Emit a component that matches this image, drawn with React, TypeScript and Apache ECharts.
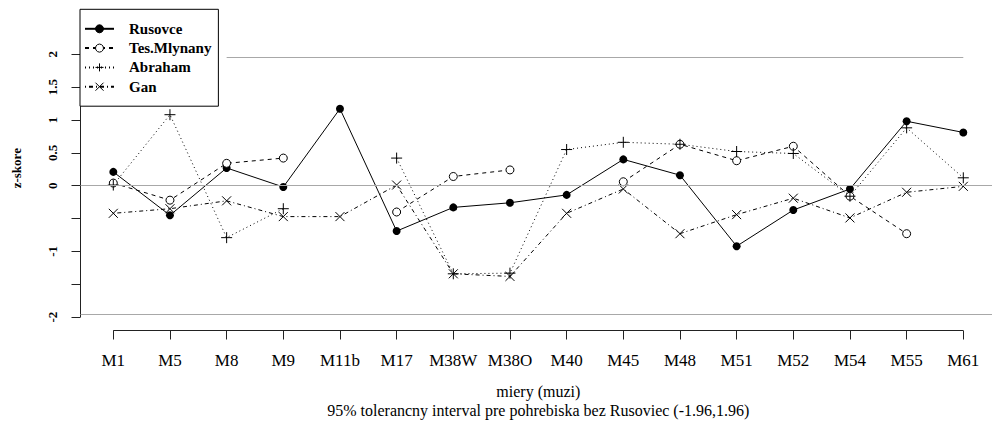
import { useEffect, useRef } from 'react';
import * as echarts from 'echarts';

const categories = ['M1', 'M5', 'M8', 'M9', 'M11b', 'M17', 'M38W', 'M38O', 'M40', 'M45', 'M48', 'M51', 'M52', 'M54', 'M55', 'M61'];
const rusovce = [0.21, -0.45, 0.27, -0.02, 1.17, -0.69, -0.33, -0.26, -0.14, 0.4, 0.16, -0.92, -0.37, -0.05, 0.98, 0.81];
const tesMlynany = [0.04, -0.22, 0.34, 0.42, null, -0.4, 0.14, 0.24, null, 0.06, 0.63, 0.38, 0.6, -0.16, -0.73, null];
const abraham = [0.01, 1.08, -0.79, -0.35, null, 0.42, -1.34, -1.33, 0.55, 0.66, 0.63, 0.52, 0.49, -0.16, 0.88, 0.12];
const gan = [-0.42, -0.35, -0.23, -0.47, -0.47, 0.01, -1.34, -1.38, -0.42, -0.05, -0.73, -0.44, -0.19, -0.49, -0.1, -0.01];
const hiddenYTicks = [-0.5, -1.5];
const yMin = -2;
const yMax = 2;
const toleranceLow = -1.96;
const toleranceHigh = 1.96;
const toleranceStart = 'M8';
const toleranceEnd = 'M61';

const FONT = 'Liberation Serif';
const PLUS = 'path://M0,5L10,5M5,0L5,10';
const CROSS = 'path://M0,0L10,10M10,0L0,10';
const GRAY = '#a8a8a8';
const AXIS = '#222';

function mkSeries(name: string, data: (number | null)[], symbol: string, size: number, dash: any, itemStyle: any) {
  return {
    type: 'line',
    name,
    data,
    xAxisIndex: 0,
    yAxisIndex: 0,
    symbol,
    symbolSize: size,
    showAllSymbol: true,
    connectNulls: false,
    lineStyle: { color: '#000', width: 1, type: dash },
    itemStyle,
    emphasis: { disabled: true },
    z: 3,
  };
}

const markBase = {
  silent: true,
  symbol: ['none', 'none'],
  label: { show: false },
  emphasis: { disabled: true },
};

export default function App() {
  const ref = useRef<HTMLDivElement>(null);
  useEffect(() => {
    const chart = echarts.init(ref.current!, null, { renderer: 'svg' });
    chart.setOption({
      animation: false,
      backgroundColor: '#fff',
      textStyle: { fontFamily: FONT },
      grid: [
        { left: 113.3, right: 28.7, top: 54.2, bottom: 110.8 },
        { left: 80.5, right: -5, top: 54.2, bottom: 110.8 },
        { left: 113.3, right: 28.7, top: 54.2, bottom: 97.5 },
      ],
      legend: {
        data: ['Rusovce', 'Tes.Mlynany', 'Abraham', 'Gan'],
        orient: 'vertical',
        left: 80,
        top: 9.3,
        padding: [12, 7, 12, 4],
        itemWidth: 29,
        itemHeight: 10,
        itemGap: 4.3,
        selectedMode: false,
        backgroundColor: '#fff',
        borderColor: '#000',
        borderWidth: 1,
        borderRadius: 0,
        itemStyle: { borderWidth: 1 },
        formatter: '{a|{name}}',
        textStyle: {
          fontFamily: FONT,
          rich: {
            a: { fontFamily: FONT, fontSize: 15, fontWeight: 'bold', color: '#000', lineHeight: 15, padding: [0, 0, 0, 10] },
          },
        },
        z: 10,
      },
      xAxis: [
        {
          type: 'category',
          gridIndex: 0,
          data: categories,
          boundaryGap: false,
          offset: 13.3,
          axisLine: { show: false, onZero: false },
          axisTick: { show: true, inside: false, length: 9, interval: 0, lineStyle: { color: AXIS, width: 1 } },
          axisLabel: { interval: 0, margin: 21, fontFamily: FONT, fontSize: 17, color: '#000', hideOverlap: false },
          splitLine: { show: false },
          name: 'miery (muzi)\n95% tolerancny interval pre pohrebiska bez Rusoviec (-1.96,1.96)',
          nameLocation: 'middle',
          nameGap: 51.2,
          nameTextStyle: { fontFamily: FONT, fontSize: 16, lineHeight: 19, color: '#000', align: 'center' },
        },
        { type: 'value', gridIndex: 1, min: 0, max: 1, show: false },
        { type: 'category', gridIndex: 2, data: categories, boundaryGap: false, show: false },
      ],
      yAxis: [
        {
          type: 'value',
          gridIndex: 0,
          min: yMin,
          max: yMax,
          interval: 0.5,
          offset: 32.8,
          axisLine: { show: false, onZero: false },
          axisTick: { show: true, inside: false, length: 9, lineStyle: { color: AXIS, width: 1 } },
          axisLabel: {
            rotate: 90,
            margin: 22,
            fontFamily: FONT,
            fontSize: 13,
            fontWeight: 'bold',
            color: '#000',
            formatter: (v: number) => (hiddenYTicks.some((h) => Math.abs(h - v) < 1e-9) ? '' : String(v)),
          },
          splitLine: { show: false },
          name: 'z-skore',
          nameLocation: 'middle',
          nameGap: 57.5,
          nameTextStyle: { fontFamily: FONT, fontSize: 13, fontWeight: 'bold', color: '#000', padding: [0, 0, 0, 35] },
        },
        { type: 'value', gridIndex: 1, min: yMin, max: yMax, show: false },
        { type: 'value', gridIndex: 2, min: 0, max: 1, show: false },
      ],
      series: [
        {
          type: 'line',
          name: 'refLines',
          xAxisIndex: 1,
          yAxisIndex: 1,
          data: [],
          silent: true,
          markLine: {
            ...markBase,
            lineStyle: { color: GRAY, width: 1, type: 'solid' },
            data: [{ yAxis: 0 }, { yAxis: toleranceLow }],
          },
          z: 1,
        },
        {
          type: 'line',
          name: 'refTop',
          xAxisIndex: 0,
          yAxisIndex: 0,
          data: [],
          silent: true,
          markLine: {
            ...markBase,
            lineStyle: { color: GRAY, width: 1, type: 'solid' },
            data: [[{ coord: [toleranceStart, toleranceHigh] }, { coord: [toleranceEnd, toleranceHigh] }]],
          },
          z: 1,
        },
        {
          type: 'line',
          name: 'yAxisLine',
          xAxisIndex: 1,
          yAxisIndex: 1,
          data: [[0, yMin], [0, yMax]],
          symbol: 'none',
          clip: false,
          silent: true,
          lineStyle: { color: AXIS, width: 1, type: 'solid' },
          emphasis: { disabled: true },
          z: 2,
        },
        {
          type: 'line',
          name: 'xAxisLine',
          xAxisIndex: 2,
          yAxisIndex: 2,
          data: [[categories[0], 0], [categories[categories.length - 1], 0]],
          symbol: 'none',
          clip: false,
          silent: true,
          lineStyle: { color: AXIS, width: 1, type: 'solid' },
          emphasis: { disabled: true },
          z: 2,
        },
        mkSeries('Rusovce', rusovce, 'circle', 8, 'solid', { color: '#000', borderColor: '#000', borderWidth: 0 }),
        mkSeries('Tes.Mlynany', tesMlynany, 'circle', 8, [4, 4], { color: '#fff', borderColor: '#000', borderWidth: 1 }),
        mkSeries('Abraham', abraham, PLUS, 11, [1, 3], { color: '#000', borderColor: '#000', borderWidth: 1 }),
        mkSeries('Gan', gan, CROSS, 9, [1, 3, 4, 3], { color: '#000', borderColor: '#000', borderWidth: 1 }),
      ],
    });
    return () => chart.dispose();
  }, []);
  return <div ref={ref} style={{ position: 'absolute', left: 0, top: 0, width: 992, height: 428 }} />;
}
